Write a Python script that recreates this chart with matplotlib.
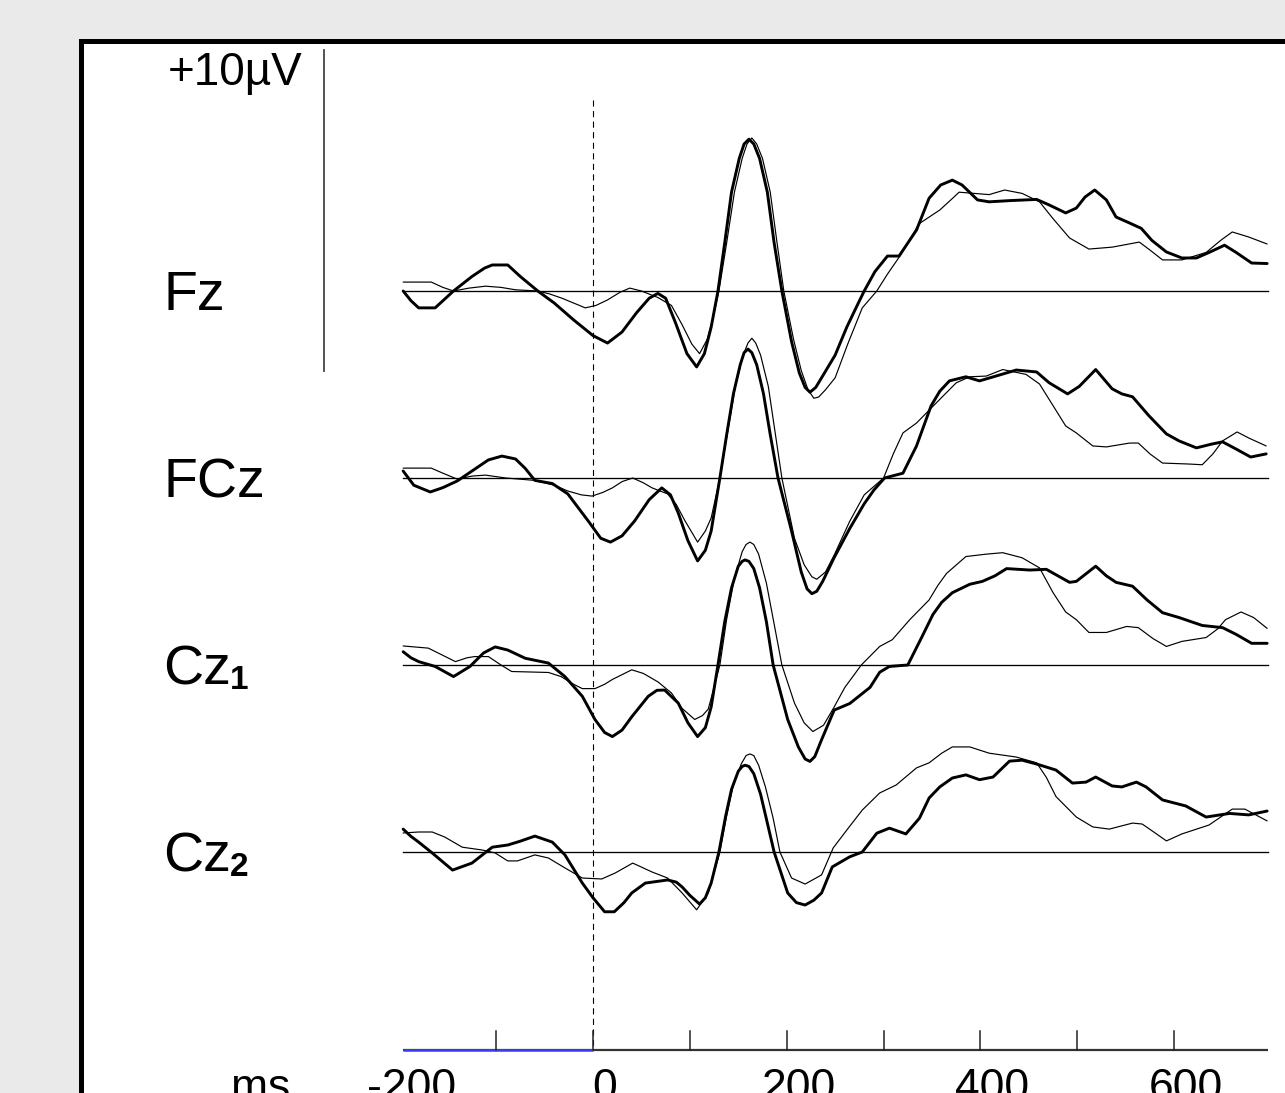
import matplotlib
matplotlib.use('Agg')
import matplotlib.pyplot as plt
import matplotlib.patches as patches
import matplotlib.transforms as mtransforms
import numpy as np

plt.rcParams['font.family'] = ['Liberation Sans', 'DejaVu Sans']

# channel labels, top to bottom
channels = ['Fz', 'FCz', 'Cz', 'Cz']
subscripts = ['', '', '1', '2']

# time axis (ms)
tick_ms = [-100, 0, 100, 200, 300, 400, 500, 600]
label_ms = [-200, 0, 200, 400, 600]
prestim_ms = [-196, 0]
epoch_ms = [-196, 697]
scale_uv = 10

# ---- waveforms: (ms, microvolts) ----
fz_thick = [(-196, 0.0), (-188, -0.4), (-180, -0.7), (-163, -0.7), (-144, 0.0), (-125, 0.6),
            (-112, 0.95), (-104, 1.08), (-88, 1.08), (-75, 0.6), (-57, 0.0), (-40, -0.5),
            (-20, -1.2), (0, -1.85), (15, -2.16), (30, -1.7), (45, -0.9), (58, -0.3), (67, -0.1),
            (75, -0.3), (85, -1.3), (97, -2.6), (107, -3.15), (115, -2.6), (122, -1.5), (129, 0.0),
            (136, 2.0), (143, 4.1), (151, 5.5), (156, 6.1), (161, 6.3), (166, 6.1), (172, 5.5),
            (180, 4.1), (187, 2.0), (195, 0.0), (205, -2.1), (213, -3.4), (219, -4.0), (224, -4.2),
            (230, -4.0), (236, -3.6), (250, -2.66), (262, -1.5), (272, -0.66), (280, 0.0),
            (291, 0.8), (304, 1.45), (316, 1.45), (334, 2.53), (347, 3.85), (359, 4.4), (371, 4.6),
            (381, 4.4), (397, 3.78), (409, 3.7), (430, 3.75), (458, 3.8), (471, 3.57), (488, 3.24),
            (499, 3.44), (508, 3.9), (518, 4.19), (530, 3.78), (540, 3.07), (554, 2.82), (566, 2.6),
            (577, 2.1), (592, 1.62), (608, 1.37), (623, 1.37), (636, 1.6), (652, 1.9), (664, 1.6),
            (680, 1.16), (696, 1.14)]
fz_thin = [(-196, 0.37), (-167, 0.37), (-155, 0.15), (-144, 0.0), (-128, 0.12), (-111, 0.2),
           (-95, 0.15), (-80, 0.05), (-57, 0.0), (-45, -0.12), (-32, -0.3), (-20, -0.5), (-8, -0.7),
           (3, -0.6), (15, -0.37), (28, -0.05), (38, 0.12), (50, 0.0), (67, -0.27), (81, -0.6),
           (92, -1.4), (102, -2.2), (110, -2.6), (118, -2.0), (124, -1.1), (130, 0.0), (138, 2.0),
           (146, 4.1), (154, 5.5), (159, 6.1), (164, 6.35), (169, 6.1), (175, 5.5), (183, 4.1),
           (190, 2.0), (197, 0.0), (207, -2.0), (215, -3.3), (222, -4.1), (228, -4.45),
           (233, -4.4), (240, -4.1), (250, -3.6), (263, -2.2), (278, -0.7), (293, 0.0), (304, 0.7),
           (316, 1.4), (337, 2.8), (358, 3.36), (370, 3.8), (378, 4.1), (409, 4.0), (425, 4.19),
           (443, 4.05), (461, 3.7), (475, 3.0), (492, 2.2), (512, 1.74), (536, 1.82), (564, 2.03),
           (575, 1.7), (588, 1.29), (608, 1.29), (633, 1.6), (648, 2.1), (660, 2.45), (677, 2.24),
           (696, 1.95)]

fcz_thick = [(-196, 0.29), (-185, -0.3), (-168, -0.58), (-155, -0.4), (-140, -0.12), (-122, 0.37),
             (-108, 0.75), (-94, 0.91), (-80, 0.79), (-70, 0.4), (-60, -0.1), (-42, -0.23),
             (-26, -0.66), (-5, -1.78), (8, -2.5), (18, -2.66), (30, -2.4), (43, -1.78), (58, -0.9),
             (71, -0.41), (80, -0.7), (88, -1.45), (98, -2.6), (108, -3.44), (116, -3.0),
             (122, -2.2), (131, 0.0), (138, 1.8), (145, 3.5), (152, 4.7), (156, 5.2), (160, 5.35),
             (164, 5.2), (169, 4.7), (176, 3.5), (183, 1.8), (191, 0.0), (198, -1.1), (205, -2.2),
             (215, -3.9), (221, -4.6), (226, -4.8), (231, -4.7), (237, -4.3), (249, -3.3),
             (265, -2.1), (280, -1.07), (290, -0.5), (301, 0.0), (320, 0.2), (334, 1.33),
             (349, 2.99), (358, 3.6), (368, 4.03), (385, 4.2), (399, 4.03), (416, 4.23), (437, 4.48),
             (458, 4.4), (471, 3.95), (490, 3.49), (502, 3.8), (519, 4.5), (536, 3.7), (546, 3.49),
             (557, 3.37), (574, 2.58), (592, 1.83), (605, 1.54), (623, 1.25), (638, 1.4), (650, 1.5),
             (664, 1.2), (679, 0.87), (695, 1.0)]
fcz_thin = [(-196, 0.41), (-167, 0.41), (-155, 0.2), (-140, -0.05), (-125, 0.08), (-111, 0.12),
            (-90, 0.0), (-60, -0.1), (-40, -0.3), (-26, -0.54), (-12, -0.7), (-1, -0.75), (10, -0.6),
            (20, -0.41), (30, -0.15), (41, 0.0), (52, -0.2), (61, -0.41), (77, -0.66), (86, -1.1),
            (95, -1.78), (108, -2.66), (116, -2.2), (122, -1.66), (131, 0.0), (139, 1.9), (147, 3.8),
            (155, 5.1), (160, 5.6), (164, 5.8), (168, 5.6), (173, 5.1), (181, 3.8), (188, 1.9),
            (195, 0.0), (208, -2.5), (218, -3.6), (226, -4.1), (231, -4.2), (240, -3.9),
            (249, -3.2), (265, -1.8), (280, -0.7), (300, 0.0), (310, 1.0), (320, 1.87), (334, 2.28),
            (354, 3.1), (375, 3.95), (389, 4.2), (406, 4.23), (423, 4.5), (447, 4.3), (461, 3.9),
            (475, 3.0), (488, 2.16), (499, 1.87), (516, 1.33), (530, 1.29), (554, 1.45), (563, 1.45),
            (575, 1.0), (588, 0.62), (615, 0.58), (629, 0.55), (640, 1.0), (650, 1.54), (665, 1.91),
            (677, 1.66), (695, 1.33)]

cz1_thick = [(-196, 0.55), (-188, 0.3), (-180, 0.14), (-163, -0.06), (-144, -0.48), (-127, -0.06),
             (-113, 0.5), (-101, 0.75), (-88, 0.62), (-70, 0.28), (-46, 0.08), (-29, -0.48),
             (-11, -1.3), (2, -2.26), (12, -2.8), (20, -2.97), (30, -2.7), (40, -2.15), (57, -1.3),
             (66, -1.05), (74, -1.04), (88, -1.58), (98, -2.4), (108, -2.97), (116, -2.6),
             (122, -1.74), (129, 0.0), (136, 1.8), (143, 3.2), (150, 4.1), (154, 4.3), (157, 4.36),
             (161, 4.3), (166, 4.0), (172, 3.2), (179, 1.8), (186, 0.0), (201, -2.26), (212, -3.4),
             (219, -3.9), (224, -4.0), (229, -3.8), (236, -3.1), (249, -1.87), (265, -1.6),
             (286, -0.93), (296, -0.3), (306, -0.06), (325, 0.0), (340, 1.2), (351, 2.1), (360, 2.6),
             (371, 3.0), (389, 3.35), (402, 3.47), (415, 3.7), (427, 4.0), (451, 3.94), (468, 3.97),
             (480, 3.7), (492, 3.43), (499, 3.47), (519, 4.1), (530, 3.7), (540, 3.43), (557, 3.27),
             (572, 2.7), (588, 2.17), (605, 1.97), (629, 1.64), (650, 1.55), (664, 1.27), (680, 0.9),
             (696, 0.9)]
cz1_thin = [(-196, 0.79), (-170, 0.7), (-155, 0.4), (-142, 0.14), (-130, 0.3), (-122, 0.35),
            (-108, 0.35), (-95, 0.0), (-84, -0.27), (-46, -0.31), (-33, -0.48), (-20, -0.8),
            (-11, -0.98), (2, -0.98), (12, -0.8), (20, -0.6), (30, -0.4), (40, -0.2), (52, -0.35),
            (67, -0.7), (81, -1.16), (92, -1.8), (105, -2.26), (113, -2.1), (119, -1.83), (131, 0.0),
            (138, 1.9), (146, 3.6), (154, 4.7), (158, 5.0), (162, 5.1), (166, 5.0), (171, 4.6),
            (179, 3.4), (187, 1.7), (195, 0.0), (208, -1.58), (218, -2.4), (227, -2.76), (238, -2.5),
            (249, -1.74), (260, -0.93), (277, 0.0), (296, 0.77), (309, 1.05), (327, 1.88),
            (347, 2.7), (356, 3.3), (365, 3.8), (385, 4.5), (406, 4.6), (423, 4.66), (443, 4.45),
            (461, 4.03), (475, 3.0), (488, 2.2), (499, 1.88), (512, 1.35), (530, 1.35), (551, 1.6),
            (563, 1.55), (578, 1.1), (592, 0.77), (608, 0.98), (633, 1.14), (645, 1.5), (653, 1.88),
            (669, 2.2), (682, 1.97), (696, 1.52)]

cz2_thick = [(-196, 0.95), (-188, 0.65), (-180, 0.41), (-166, -0.04), (-145, -0.75), (-125, -0.46),
             (-104, 0.2), (-88, 0.29), (-75, 0.45), (-60, 0.66), (-42, 0.41), (-29, -0.12),
             (-11, -1.29), (0, -1.9), (12, -2.48), (22, -2.48), (32, -2.1), (40, -1.7), (54, -1.29),
             (77, -1.16), (86, -1.25), (92, -1.45), (100, -1.8), (110, -2.16), (116, -1.9),
             (122, -1.29), (130, 0.0), (137, 1.5), (143, 2.6), (150, 3.35), (154, 3.55), (157, 3.6),
             (161, 3.55), (166, 3.25), (173, 2.4), (180, 1.2), (187, 0.0), (201, -1.7), (210, -2.1),
             (219, -2.2), (228, -2.0), (236, -1.7), (247, -0.62), (265, -0.2), (278, 0.0),
             (293, 0.78), (306, 0.99), (323, 0.75), (337, 1.4), (347, 2.24), (358, 2.7), (371, 3.07),
             (385, 3.2), (399, 3.0), (413, 3.11), (430, 3.77), (443, 3.81), (458, 3.65), (478, 3.4),
             (495, 2.86), (509, 2.9), (519, 3.11), (536, 2.74), (546, 2.7), (561, 2.9), (571, 2.7),
             (588, 2.16), (612, 1.91), (633, 1.45), (657, 1.6), (677, 1.54), (696, 1.7)]
cz2_thin = [(-196, 0.79), (-180, 0.83), (-166, 0.83), (-153, 0.62), (-135, 0.2), (-114, 0.08),
            (-101, -0.04), (-88, -0.37), (-78, -0.37), (-60, -0.12), (-46, -0.25), (-29, -0.66),
            (-11, -1.08), (9, -1.12), (23, -0.87), (41, -0.46), (61, -0.83), (77, -1.08), (92, -1.7),
            (107, -2.4), (119, -1.7), (131, 0.0), (138, 1.5), (145, 2.8), (153, 3.65), (158, 4.0),
            (162, 4.07), (166, 4.0), (171, 3.6), (178, 2.7), (186, 1.4), (193, 0.0), (205, -1.08),
            (219, -1.33), (236, -0.95), (248, 0.17), (262, 0.91), (278, 1.74), (296, 2.45),
            (313, 2.78), (334, 3.49), (347, 3.7), (360, 4.1), (371, 4.36), (389, 4.36), (409, 4.1),
            (437, 3.94), (458, 3.7), (468, 3.1), (478, 2.3), (499, 1.45), (516, 1.04), (533, 0.95),
            (557, 1.2), (567, 1.16), (580, 0.8), (592, 0.46), (608, 0.75), (636, 1.12), (660, 1.78),
            (673, 1.78), (696, 1.29)]

thick_traces = [fz_thick, fcz_thick, cz1_thick, cz2_thick]
thin_traces = [fz_thin, fcz_thin, cz1_thin, cz2_thin]

# ---- layout (pixels of the 1285x1093 canvas) ----
W, H = 1285, 1093
PX_MS = 0.9686      # pixels per ms
PX_UV = 24.1        # pixels per microvolt
X0 = 593            # pixel column of t = 0
Y0 = 291            # pixel row of the Fz baseline
ROW = 187           # pixels between channel baselines


def px_to_ms(x):
    return (x - X0) / PX_MS


def px_to_uv(y):
    return (Y0 - y) / PX_UV


def plot_trace(ax, trace, offset, lw):
    t, v = zip(*trace)
    ax.plot(t, np.asarray(v) + offset, color='black', lw=lw, zorder=3 + lw,
            solid_joinstyle='round', solid_capstyle='round')


fig = plt.figure(figsize=(W / 100, H / 100), dpi=100, facecolor='#eaeaea')

# white panel with heavy black frame, running off the right and bottom edges
frame = patches.Rectangle((81 / W, -0.1), 1.2, 1 - 41 / H + 0.1, transform=fig.transFigure,
                          facecolor='white', edgecolor='black', linewidth=3.6, zorder=0)
fig.patches.append(frame)

ax = fig.add_axes([0, 0, 1, 1])
ax.set_zorder(1)
ax.patch.set_visible(False)
ax.set_xlim(px_to_ms(0), px_to_ms(W))
ax.set_ylim(px_to_uv(H), px_to_uv(0))
ax.axis('off')

offsets = [-i * ROW / PX_UV for i in range(len(channels))]

for i in range(len(channels)):
    off = offsets[i]
    # zero line
    ax.plot(epoch_ms, [off, off], color='black', lw=0.95, zorder=2)
    plot_trace(ax, thin_traces[i], off, 0.85)
    plot_trace(ax, thick_traces[i], off, 2.1)

    # channel name, with a bold subscript for the Cz repeats
    name = ax.text(px_to_ms(163), off - 19 / PX_UV, channels[i], fontsize=40,
                   ha='left', va='baseline', zorder=6)
    if subscripts[i]:
        ax.annotate(subscripts[i], xy=(1, 0), xycoords=name, xytext=(-1, 0),
                    textcoords='offset points', fontsize=24, fontweight='bold',
                    ha='left', va='bottom', zorder=6)

# stimulus onset
y_axis = px_to_uv(1050)
ax.plot([0, 0], [px_to_uv(100), y_axis], color='black', lw=0.8,
        linestyle=(0, (5.5, 4)), zorder=1)

# amplitude scale bar
bar_x = px_to_ms(324)
ax.plot([bar_x, bar_x], [px_to_uv(371), scale_uv], color='#444444', lw=1.3)
ax.text(px_to_ms(302), px_to_uv(85), '+%dµV' % scale_uv, fontsize=33,
        ha='right', va='baseline')

# time axis: dark line, blue prestimulus baseline, upward ticks
ax.plot(epoch_ms, [y_axis, y_axis], color='#333333', lw=1.6, solid_capstyle='butt')
ax.plot(prestim_ms, [y_axis, y_axis], color='#3c3cff', lw=1.8, solid_capstyle='butt')
tick_len = 19 / PX_UV
for t in tick_ms:
    ax.plot([t, t], [y_axis, y_axis + tick_len], color='#222222', lw=1.1)

label_shift = mtransforms.offset_copy(ax.transData, fig=fig, x=12, y=0, units='dots')
for t in label_ms:
    ax.text(t, px_to_uv(1100), '%d' % t, fontsize=32, ha='center', va='baseline',
            transform=label_shift)
ax.text(px_to_ms(261), px_to_uv(1100), 'ms', fontsize=32, ha='center', va='baseline')

fig.savefig('out.png', dpi=100, facecolor=fig.get_facecolor())
